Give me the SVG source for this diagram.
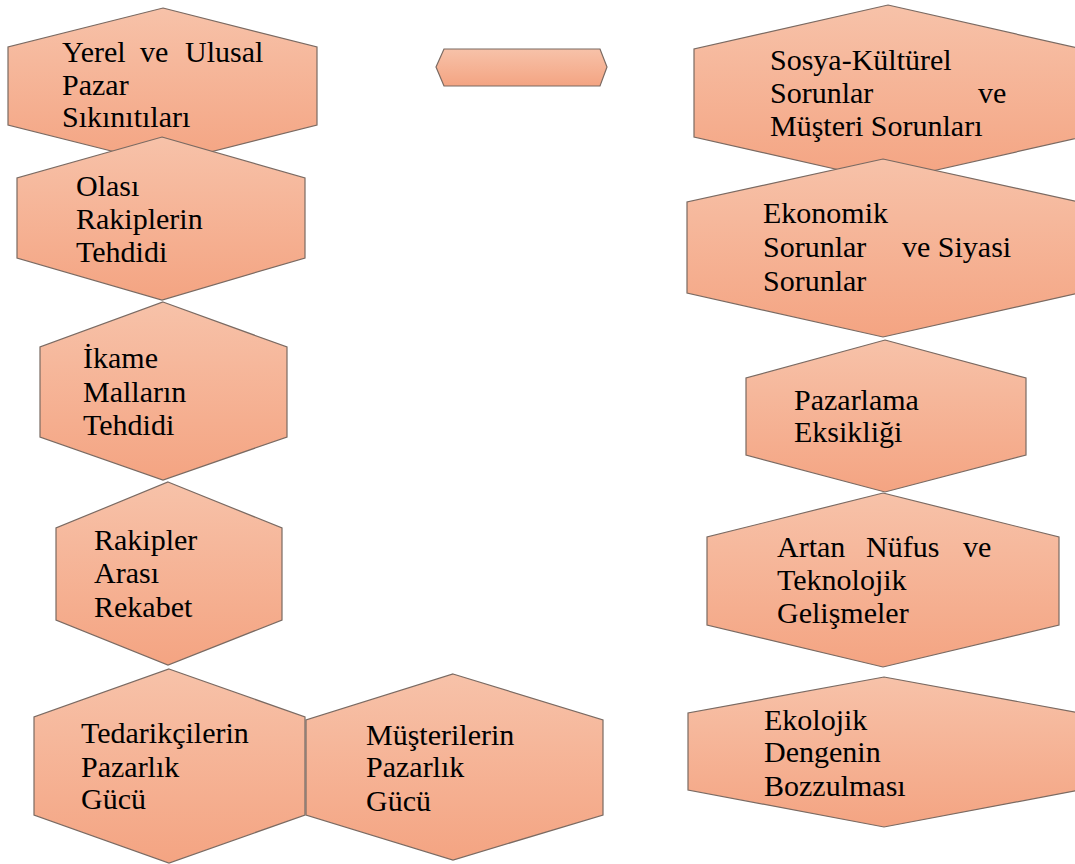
<svg xmlns="http://www.w3.org/2000/svg" width="1075" height="864" viewBox="0 0 1075 864">
<defs>
<linearGradient id="g" x1="0" y1="0" x2="0" y2="1">
<stop offset="0" stop-color="#F7C2A9"/>
<stop offset="1" stop-color="#F4A482"/>
</linearGradient>
</defs>
<style>
.h{fill:url(#g);stroke:#7a6a62;stroke-width:1.2;}
.t{font-family:"Liberation Serif","Times New Roman",serif;font-size:30px;fill:#000;}
</style>
<rect width="1075" height="864" fill="#fff"/>
<g id="connectors"/>
<g id="n1">
<polygon class="h" points="163,8 317,47 317,125 163,164 8,125 8,47"/>
<text class="t"><tspan x="62" y="62">Yerel</tspan><tspan x="140" y="62">ve</tspan><tspan x="185" y="62">Ulusal</tspan><tspan x="62" y="95">Pazar</tspan><tspan x="62" y="127">Sıkınıtıları</tspan></text>
</g>
<g id="n2">
<polygon class="h" points="162,137 305,178 305,258 162,300 17,258 17,178"/>
<text class="t"><tspan x="76" y="196">Olası</tspan><tspan x="76" y="229">Rakiplerin</tspan><tspan x="76" y="262">Tehdidi</tspan></text>
</g>
<g id="n0">
<polygon class="h" points="444,49 600,49 607,67 600,86 444,86 436,67"/>
</g>
<g id="n3">
<polygon class="h" points="888,5 1082,49 1082,137 888,181 694,137 694,49"/>
<text class="t"><tspan x="770" y="70">Sosya-Kültürel</tspan><tspan x="770" y="103">Sorunlar</tspan><tspan x="978" y="103">ve</tspan><tspan x="770" y="136">Müşteri Sorunları</tspan></text>
</g>
<g id="n4">
<polygon class="h" points="883,159 1079,202 1079,293 883,337 687,293 687,202"/>
<text class="t"><tspan x="763" y="223">Ekonomik</tspan><tspan x="763" y="257">Sorunlar</tspan><tspan x="902" y="257">ve Siyasi</tspan><tspan x="763" y="291">Sorunlar</tspan></text>
</g>
<g id="n5">
<polygon class="h" points="163,302 287,347 287,437 163,480 40,437 40,347"/>
<text class="t"><tspan x="83" y="368">İkame</tspan><tspan x="83" y="402">Malların</tspan><tspan x="83" y="435">Tehdidi</tspan></text>
</g>
<g id="n6">
<polygon class="h" points="885,340 1026,378 1026,455 885,492 746,455 746,378"/>
<text class="t"><tspan x="794" y="410">Pazarlama</tspan><tspan x="794" y="442">Eksikliği</tspan></text>
</g>
<g id="n7">
<polygon class="h" points="168,482 282,528 282,620 168,665 56,620 56,528"/>
<text class="t"><tspan x="94" y="550">Rakipler</tspan><tspan x="94" y="583">Arası</tspan><tspan x="94" y="617">Rekabet</tspan></text>
</g>
<g id="n8">
<polygon class="h" points="883,493 1059,537 1059,625 883,667 707,625 707,537"/>
<text class="t"><tspan x="777" y="557">Artan</tspan><tspan x="866" y="557">Nüfus</tspan><tspan x="963" y="557">ve</tspan><tspan x="777" y="590">Teknolojik</tspan><tspan x="777" y="623">Gelişmeler</tspan></text>
</g>
<g id="n9">
<polygon class="h" points="169,669 305,717 305,815 169,863 34,815 34,717"/>
<text class="t"><tspan x="81" y="743">Tedarikçilerin</tspan><tspan x="81" y="777">Pazarlık</tspan><tspan x="81" y="809">Gücü</tspan></text>
</g>
<g id="n10">
<polygon class="h" points="453,674 603,720 603,815 453,860 306,815 306,720"/>
<text class="t"><tspan x="366" y="745">Müşterilerin</tspan><tspan x="366" y="777">Pazarlık</tspan><tspan x="366" y="811">Gücü</tspan></text>
</g>
<g id="n11">
<polygon class="h" points="884,677 1080,713 1080,790 884,827 688,790 688,713"/>
<text class="t"><tspan x="764" y="730">Ekolojik</tspan><tspan x="764" y="762">Dengenin</tspan><tspan x="764" y="796">Bozzulması</tspan></text>
</g>
</svg>
